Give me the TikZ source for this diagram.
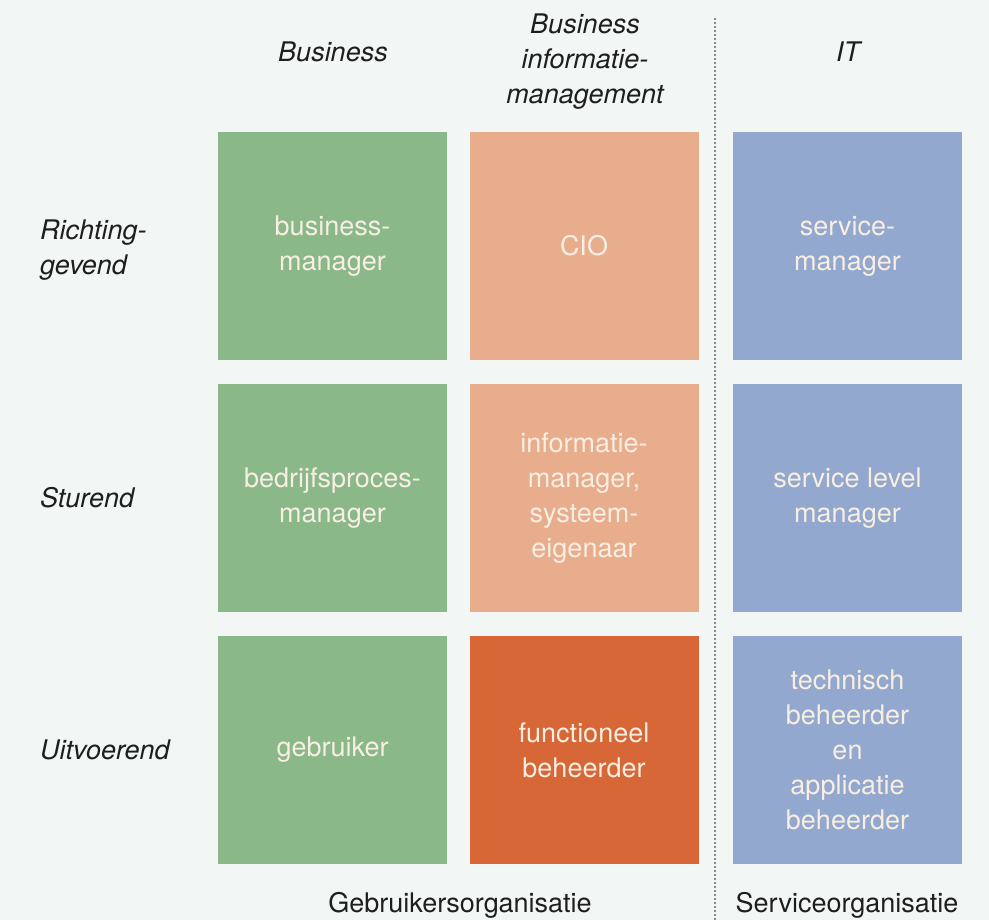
\documentclass[tikz,border=0pt]{standalone}
\usepackage{fontspec}
\setmainfont{TeX Gyre Heros}
\definecolor{bg}{HTML}{F2F7F5}
\definecolor{cgreen}{HTML}{8AB889}
\definecolor{clorange}{HTML}{E8AD8D}
\definecolor{cdorange}{HTML}{D76736}
\definecolor{cblue}{HTML}{93A8CE}
\definecolor{ctext}{HTML}{F8EEE2}
\definecolor{cdark}{HTML}{1E1E1E}
\definecolor{cdots}{HTML}{8A8A8A}
\begin{document}
\begin{tikzpicture}[x=1pt,y=-1pt,
  cell/.style={minimum width=229pt,minimum height=228pt,inner sep=0pt,align=center,
    text=ctext,font=\fontsize{27}{35}\selectfont},
  head/.style={align=center,text=cdark,font=\fontsize{27}{35}\selectfont\itshape,inner sep=0pt},
  rowlab/.style={align=left,text=cdark,font=\fontsize{27}{35}\selectfont\itshape,inner sep=0pt,anchor=west},
  foot/.style={text=cdark,font=\fontsize{27}{35}\selectfont,inner sep=0pt,anchor=base}]
\fill[bg] (0,0) rectangle (989,920);
\useasboundingbox (0,0) rectangle (989,920);
% boxes
\node[cell,fill=cgreen] (b11) at (332.5,246) {business-\\manager};
\node[cell,fill=clorange] (b12) at (584,246) {CIO};
\node[cell,fill=cblue] (b13) at (847.5,246) {service-\\manager};
\node[cell,fill=cgreen] (b21) at (332.5,498) {bedrijfsproces-\\manager};
\node[cell,fill=clorange] (b22) at (584,498) {informatie-\\manager,\\systeem-\\eigenaar};
\node[cell,fill=cblue] (b23) at (847.5,498) {service level\\manager};
\node[cell,fill=cgreen] (b31) at (332.5,750) {gebruiker};
\node[cell,fill=cdorange] (b32) at (584,750) {functioneel\\beheerder};
\node[cell,fill=cblue] (b33) at (847.5,750) {technisch\\beheerder\\en\\applicatie\\beheerder};
% headers
\node[head] (h1) at (333,52) {Business};
\node[head] (h2) at (585,62) {Business\\informatie-\\management};
\node[head] (h3) at (848,52) {IT};
% row labels
\node[rowlab] (r1) at (40,250) {Richting-\\gevend};
\node[rowlab] (r2) at (40,498) {Sturend};
\node[rowlab] (r3) at (40,750) {Uitvoerend};
% footers
\node[foot] (f1) at (460,912) {Gebruikersorganisatie};
\node[foot] (f2) at (847,912) {Serviceorganisatie};
% divider
\coordinate (dtop) at (715,18);
\coordinate (dbot) at (715,920);
\draw[cdots,line width=2pt,dash pattern=on 2pt off 2pt] (dtop) -- (dbot);
\end{tikzpicture}
\end{document}
